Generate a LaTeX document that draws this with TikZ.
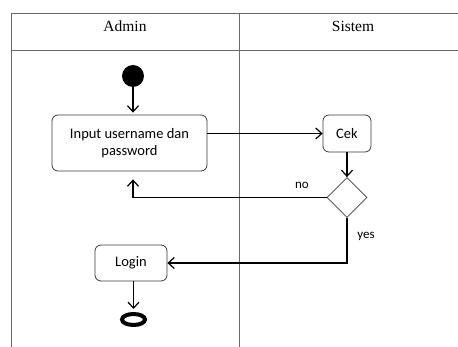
\documentclass[tikz,border=0pt]{standalone}
\usepackage{fontspec}
\setmainfont{Liberation Serif}
\newfontfamily\calfont{Carlito}
\usetikzlibrary{shapes.geometric,arrows.meta}
\definecolor{lanegray}{RGB}{105,105,105}
\definecolor{boxgray}{RGB}{60,60,60}
\tikzset{
  act/.style={draw=boxgray,rounded corners=6pt,line width=0.8pt,align=center,inner sep=0pt,
    font=\calfont\fontsize{14.5}{17}\selectfont},
  flow/.style={-{Straight Barb[length=6pt,width=11pt]},line width=1.2pt},
  lane/.style={draw=lanegray,line width=1pt},
  lbl/.style={font=\calfont\fontsize{13}{15}\selectfont,inner sep=0pt},
}

\begin{document}
\begin{tikzpicture}[x=1pt,y=-1pt]
  \useasboundingbox (0,0) rectangle (458,347);
  %\draw[step=20,gray,very thin] (0,0) grid (458,347);
  % swimlanes
  \draw[lane] (11,347) -- (11,14) -- (458,14);
  \draw[lane] (11,51) -- (458,51);
  \draw[lane] (239,14) -- (239,347);
  \node[anchor=base,font=\fontsize{15.5}{18}\selectfont] (admin) at (125,32) {Admin};
  \node[anchor=base,font=\fontsize{15.5}{18}\selectfont] (sistem) at (353,32) {Sistem};
  % nodes
  \node[circle,fill=black,minimum size=22pt,inner sep=0pt] (start) at (133,76) {};
  \node[act,minimum width=155pt,minimum height=56pt] (input) at (129.5,143) {Input username dan\\password};
  \node[act,minimum width=48pt,minimum height=37pt] (cek) at (347,133.5) {Cek};
  \node[diamond,draw=boxgray,line width=0.8pt,minimum width=40pt,minimum height=40pt,inner sep=0pt] (dec) at (347,197.5) {};
  \node[act,minimum width=72pt,minimum height=36pt] (login) at (131,263) {Login};
  \node[ellipse,draw=black,line width=4pt,fill=white,minimum width=23pt,minimum height=11pt,inner sep=0pt] (stop) at (133.5,319.5) {};
  \node[lbl] (nolbl) at (302,185) {no};
  \node[lbl] (yeslbl) at (366,236) {yes};
  % flows
  \draw[flow,shorten >=2pt] (start) -- (start |- input.north);
  \draw[flow] (input.east |- cek.west) -- (cek.west);
  \draw[flow] (cek) -- (dec);
  \draw[flow,shorten >=8pt] (dec.west) -- (start |- dec.west) -- (start |- input.south);
  \draw[flow] (dec.south) |- (login);
  \draw[flow,shorten >=3pt] (login.south -| stop) -- (stop);
\end{tikzpicture}
\end{document}
